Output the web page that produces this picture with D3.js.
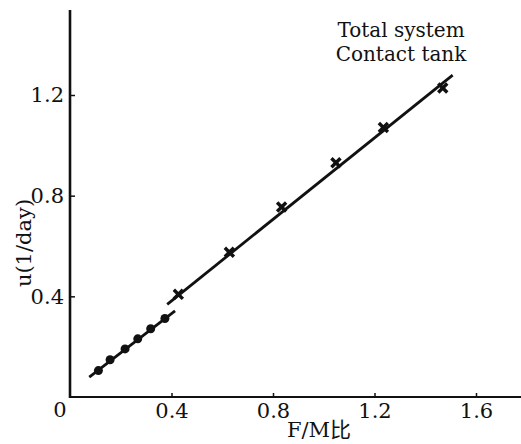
<!DOCTYPE html>
<html lang="zh">
<head>
    <meta charset="UTF-8">
    <title>F/M</title>
    <script src="https://d3js.org/d3.v7.min.js"></script>
    <style>
        body{ margin:0; background:#fff; }
        text{ font-family:"DejaVu Serif","Liberation Serif",serif; fill:#111; }
    </style>
</head>
<body>
<svg id="chart" width="521" height="444"></svg>
<script>
    // data
    let contactX = [0.112, 0.158, 0.217, 0.267, 0.318, 0.374]
    let contactU = [0.105, 0.148, 0.191, 0.231, 0.271, 0.312]
    let totalX = [0.427, 0.628, 0.834, 1.048, 1.235, 1.469]
    let totalU = [0.408, 0.575, 0.755, 0.931, 1.071, 1.228]
    // fitted lines (end points)
    let contactLineX = [0.076, 0.414]
    let contactLineU = [0.079, 0.342]
    let totalLineX = [0.383, 1.508]
    let totalLineU = [0.368, 1.279]
    let xTicks = [0.4, 0.8, 1.2, 1.6]
    let yTicks = [0.4, 0.8, 1.2]

    let svg = d3.select("#chart")

    let x = d3.scaleLinear().domain([0, 1.6]).range([70, 476])
    let y = d3.scaleLinear().domain([0, 1.2]).range([397, 95])

    // axes
    let xAxis = d3.axisBottom(x).tickValues(xTicks).tickSize(-4).tickPadding(5)
        .tickFormat(d3.format(".1f"))
    let gx = svg.append("g").attr("transform", "translate(0," + y(0) + ")").call(xAxis)
    gx.select(".domain").remove()
    gx.append("line").attr("x1", 70).attr("x2", 521)
        .attr("stroke", "#111").attr("stroke-width", 1.8)

    let yAxis = d3.axisLeft(y).tickValues(yTicks).tickSize(-5).tickPadding(6)
        .tickFormat(d3.format(".1f"))
    let gy = svg.append("g").attr("transform", "translate(" + x(0) + ",0)").call(yAxis)
    gy.select(".domain").remove()
    gy.append("line").attr("y1", 10).attr("y2", y(0) + 1)
        .attr("stroke", "#111").attr("stroke-width", 2.6)

    svg.selectAll(".tick line").attr("stroke", "#111").attr("stroke-width", 1.5)
    svg.selectAll(".tick text").attr("font-size", 21).attr("fill", "#111")
    gx.selectAll(".tick text").attr("dy", "0.75em")

    // origin label
    svg.append("text").attr("x", x(0) - 10).attr("y", 417)
        .attr("text-anchor", "middle").attr("font-size", 21).text("0")

    // fitted lines
    let line = d3.line().x(d => x(d[0])).y(d => y(d[1]))
    svg.append("path").datum(d3.zip(contactLineX, contactLineU))
        .attr("d", line).attr("stroke", "#111").attr("stroke-width", 2.8).attr("fill", "none")
    svg.append("path").datum(d3.zip(totalLineX, totalLineU))
        .attr("d", line).attr("stroke", "#111").attr("stroke-width", 2.8).attr("fill", "none")

    // contact tank points
    svg.selectAll(".cpt").data(d3.zip(contactX, contactU)).enter()
        .append("circle").attr("class", "cpt")
        .attr("cx", d => x(d[0])).attr("cy", d => y(d[1]))
        .attr("r", 4.5).attr("fill", "#111")

    // total system points
    svg.selectAll(".tpt").data(d3.zip(totalX, totalU)).enter()
        .append("path").attr("class", "tpt")
        .attr("transform", d => "translate(" + x(d[0]) + "," + y(d[1]) + ")")
        .attr("d", d3.symbol(d3.symbolTimes, 55))
        .attr("stroke", "#111").attr("stroke-width", 3.4).attr("fill", "none")

    // legend text
    svg.append("text").attr("x", 401).attr("y", 37).attr("text-anchor", "middle")
        .attr("font-size", 20).text("Total system")
    svg.append("text").attr("x", 401).attr("y", 61).attr("text-anchor", "middle")
        .attr("font-size", 20).text("Contact tank")

    // axis labels
    let xl = svg.append("text").attr("x", 319).attr("y", 437).attr("text-anchor", "middle")
        .attr("font-size", 21)
    xl.append("tspan").text("F/M")
    xl.append("tspan").style("font-family", "'Noto Sans CJK SC'").text("比")

    svg.append("text").attr("transform", "translate(31,243) rotate(-90)")
        .attr("text-anchor", "middle").attr("font-size", 21).text("u(1/day)")
</script>
</body>
</html>
